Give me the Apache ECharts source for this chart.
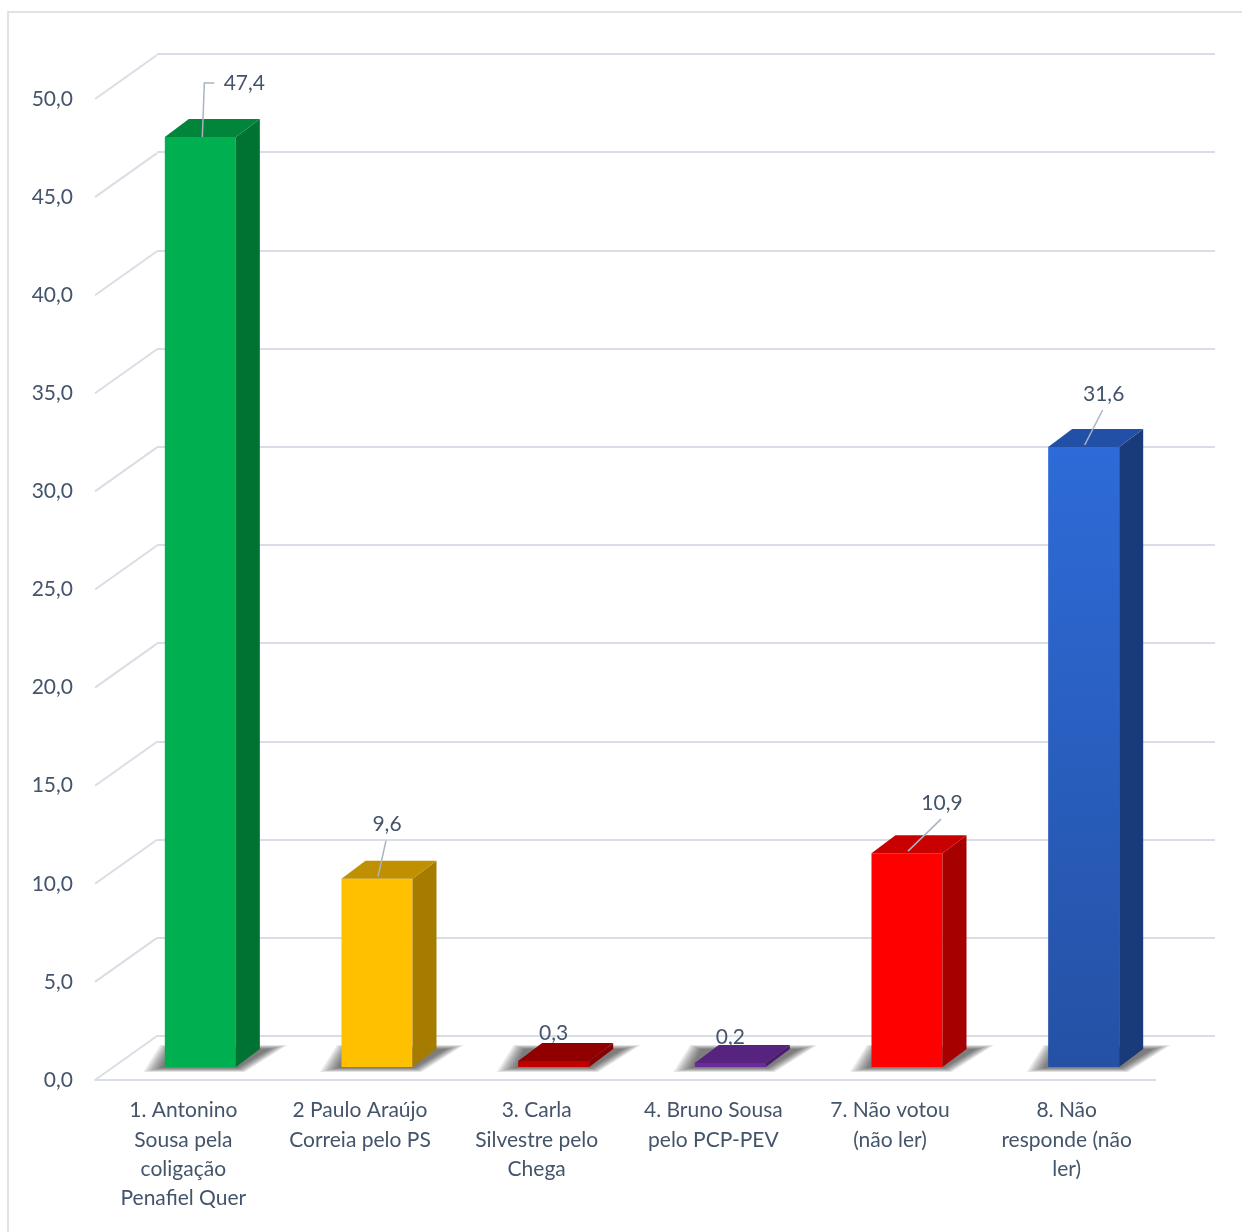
<!DOCTYPE html>
<html><head><meta charset="utf-8">
<script src="https://cdn.jsdelivr.net/npm/echarts@6/dist/echarts.min.js"></script>
<style>html,body{margin:0;padding:0;background:#fff}#c{width:1242px;height:1232px}</style>
</head><body><div id="c"></div>
<script>
// ---- data ----
const categories = [
  "1. Antonino\nSousa pela\ncoligação\nPenafiel Quer",
  "2 Paulo Araújo\nCorreia pelo PS",
  "3. Carla\nSilvestre pelo\nChega",
  "4. Bruno Sousa\npelo PCP-PEV",
  "7. Não votou\n(não ler)",
  "8. Não\nresponde (não\nler)"
];
const values = [47.4, 9.6, 0.3, 0.2, 10.9, 31.6];
const yMin = 0, yMax = 50, yStep = 5;

// ---- styles ----
const frontColors = ["#00B050", "#FFC000", "#C00000", "#6A2A98", "#FF0000", ["#2E6BD8", "#2451A4"]];
const sideColors  = ["#007232", "#A67C00", "#8A0000", "#4A1C70", "#A60000", "#193B7A"];
const topColors   = ["#00853A", "#C09000", "#900000", "#56237F", "#C80000", "#2150A6"];
// label placement relative to top-front centre of each bar: [dx, dy, leaderType]
const labelLayout = [[44, -54, "elbow"], [10, -54, "line"], [0, -28, "none"], [0, -26, "none"], [35, -50, "line"], [20, -53, "line"]];

const TEXT = "#44546A", GRID = "#D9DEE6", FONT = "Lato";
const DEPTH_X = 62, DEPTH_Y = -44;      // wall depth
const BAR_DX = 24, BAR_DY = -18;        // bar depth
const BAR_SHIFT_X = 17, BAR_SHIFT_Y = -13;

function fmt(v) { return v.toFixed(1).replace('.', ','); }
function fill(c) {
  if (Array.isArray(c)) return new echarts.graphic.LinearGradient(0, 0, 0, 1, [{offset: 0, color: c[0]}, {offset: 1, color: c[1]}]);
  return c;
}

const ticks = [];
for (let v = yMin; v <= yMax; v += yStep) ticks.push(v);

const chart = echarts.init(document.getElementById('c'), null, {renderer: 'canvas'});

function renderBar(params, api) {
  const i = api.value(0), v = api.value(1);
  const base = api.coord([i, 0]);
  const top = api.coord([i, v]);
  const cw = api.size([1, 0])[0];
  const w = cw * 0.402;
  const cx = base[0] + BAR_SHIFT_X;
  const x0 = cx - w / 2, x1 = cx + w / 2;
  const yb = base[1] + BAR_SHIFT_Y, yt = top[1] + BAR_SHIFT_Y;
  const children = [];
  // soft floor shadow built from layered translucent polygons
  const layers = 8;
  for (let k = layers; k >= 0; k--) {
    const e = k * 2.2, ev = k * 0.5;
    children.push({
      type: 'polygon',
      shape: {points: [
        [x0 - 4 - e, yb + 1 + ev],
        [x1 + 2 + e * 0.4, yb + 1 + ev],
        [x1 + BAR_DX + 10 + e, yb + BAR_DY - ev],
        [x0 + 6 - e * 0.6, yb + BAR_DY - ev]
      ]},
      style: {fill: 'rgba(0,0,0,0.075)'},
      z2: 1
    });
  }
  children.push({type: 'rect', shape: {x: x0, y: yt, width: w, height: yb - yt}, style: {fill: fill(frontColors[i])}, z2: 3});
  children.push({type: 'polygon', shape: {points: [[x1, yb], [x1 + BAR_DX, yb + BAR_DY], [x1 + BAR_DX, yt + BAR_DY], [x1, yt]]}, style: {fill: sideColors[i]}, z2: 3});
  children.push({type: 'polygon', shape: {points: [[x0, yt], [x1, yt], [x1 + BAR_DX, yt + BAR_DY], [x0 + BAR_DX, yt + BAR_DY]]}, style: {fill: topColors[i]}, z2: 3});
  const L = labelLayout[i];
  const lx = cx + L[0], ly = yt + L[1];
  if (L[2] === 'line') {
    children.push({type: 'polyline', shape: {points: [[cx + 1, yt - 2], [lx - 1, ly + 16]]}, style: {stroke: '#A9B4C2', lineWidth: 1.5, fill: null}, z2: 5});
  } else if (L[2] === 'elbow') {
    children.push({type: 'polyline', shape: {points: [[cx + 2, yt], [cx + 4, ly], [cx + 14, ly]]}, style: {stroke: '#A9B4C2', lineWidth: 1.5, fill: null}, z2: 5});
  }
  children.push({type: 'text', style: {text: fmt(v), x: lx, y: ly, align: 'center', verticalAlign: 'middle', fill: TEXT, font: '21px ' + FONT}, z2: 6});
  return {type: 'group', children};
}

function renderWall(params, api) {
  const v = api.value(0);
  const p = api.coord([0, v]);
  const cs = params.coordSys;
  const x = cs.x;
  return {type: 'line', shape: {x1: x, y1: p[1], x2: x + DEPTH_X, y2: p[1] + DEPTH_Y}, style: {stroke: GRID, lineWidth: 2}};
}

chart.setOption({
  animation: false,
  backgroundColor: '#fff',
  textStyle: {fontFamily: FONT},
  graphic: [{type: 'rect', shape: {x: 8, y: 12, width: 1260, height: 1260}, style: {fill: null, stroke: '#D9D9D9', lineWidth: 1.5}, silent: true}],
  grid: [
    {left: 95, right: 87, top: 99, bottom: 152},
    {left: 157, right: 27, top: 54, bottom: 196}
  ],
  xAxis: [
    {type: 'category', gridIndex: 0, data: categories,
     axisLine: {show: true, lineStyle: {color: GRID, width: 2}}, axisTick: {show: false},
     axisLabel: {color: TEXT, fontSize: 21, lineHeight: 29.3, margin: 16, interval: 0, fontFamily: FONT}},
    {type: 'category', gridIndex: 1, data: categories, show: false}
  ],
  yAxis: [
    {type: 'value', gridIndex: 0, min: yMin, max: yMax, interval: yStep,
     axisLine: {show: false}, axisTick: {show: false}, splitLine: {show: false},
     axisLabel: {color: TEXT, fontSize: 21, margin: 22, formatter: fmt, fontFamily: FONT}},
    {type: 'value', gridIndex: 1, min: yMin, max: yMax, interval: yStep,
     axisLine: {show: false}, axisTick: {show: false}, axisLabel: {show: false},
     splitLine: {show: true, lineStyle: {color: GRID, width: 2}}}
  ],
  series: [
    {type: 'custom', xAxisIndex: 0, yAxisIndex: 0, data: ticks.map(t => [t]), renderItem: renderWall, silent: true, z: 1},
    {type: 'custom', xAxisIndex: 0, yAxisIndex: 0, data: values.map((v, i) => [i, v]), renderItem: renderBar, z: 5,
     encode: {x: 0, y: 1}}
  ]
});
</script></body></html>
